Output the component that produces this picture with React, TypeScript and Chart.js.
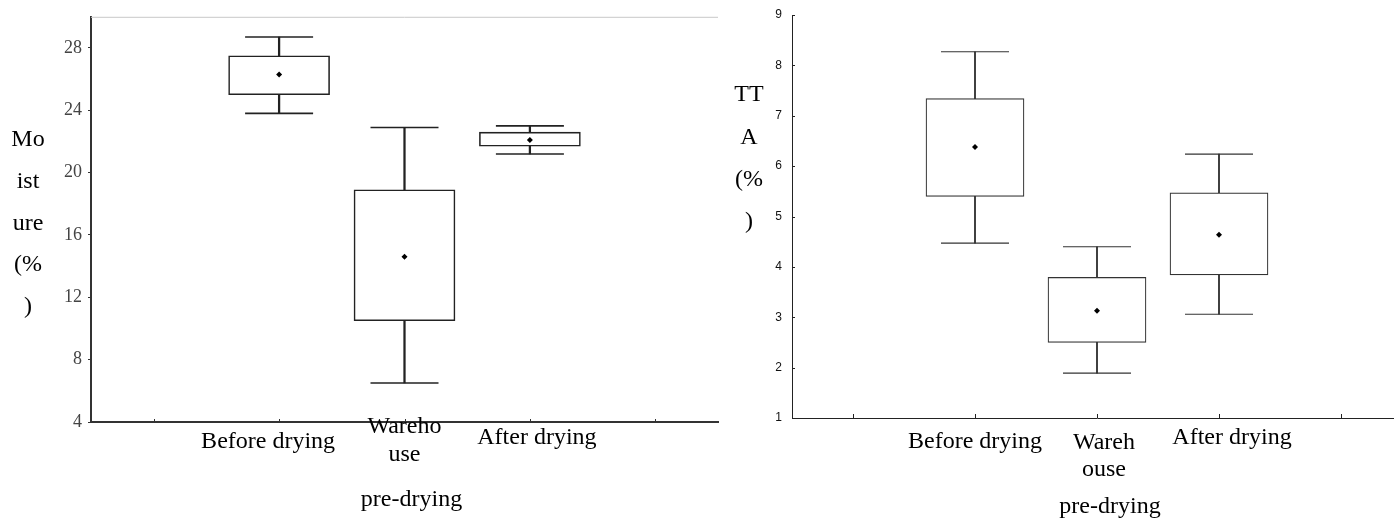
import React, { useEffect, useRef } from "react";
import { Chart, registerables } from "chart.js";

Chart.register(...registerables);

// ---------- data ----------
const categories = ["", "Before drying", "Warehouse pre-drying", "After drying", ""];

// Moisture (%)
const moistureLow = [null, 23.8, 6.5, 21.2, null];
const moistureQ1 = [null, 25.0, 10.5, 21.7, null];
const moistureMean = [null, 26.3, 14.6, 22.1, null];
const moistureQ3 = [null, 27.5, 18.9, 22.6, null];
const moistureHigh = [null, 28.7, 22.9, 23.0, null];
const moistureTicks = [4, 8, 12, 16, 20, 24, 28];
const moistureLabelLines = [[], ["Before drying"], ["Wareho", "use", "pre-drying"], ["After drying"], []];
const moistureTitle = ["Mo", "ist", "ure", "(%", ")"];

// TTA (%)
const ttaLow = [null, 4.47, 1.89, 3.06, null];
const ttaQ1 = [null, 5.4, 2.5, 3.84, null];
const ttaMean = [null, 6.38, 3.13, 4.64, null];
const ttaQ3 = [null, 7.34, 3.79, 5.47, null];
const ttaHigh = [null, 8.27, 4.4, 6.24, null];
const ttaTicks = [1, 2, 3, 4, 5, 6, 7, 8, 9];
const ttaLabelLines = [[], ["Before drying"], ["Wareh", "ouse", "pre-drying"], ["After drying"], []];
const ttaTitle = ["TT", "A", "(%", ")"];

const SERIF = "'Liberation Serif', 'Times New Roman', serif";
const SANS = "'Liberation Sans', Arial, sans-serif";

type Spec = {
  width: number;
  height: number;
  padTop: number;
  padRight: number;
  yAxisWidth: number;
  xAxisHeight: number;
  yMin: number;
  yMax: number;
  ticks: number[];
  low: (number | null)[];
  q1: (number | null)[];
  mean: (number | null)[];
  q3: (number | null)[];
  high: (number | null)[];
  labelLines: string[][];
  labelOffsets: number[][][];
  title: string[];
  titleX: number;
  titleY0: number;
  titleStep: number;
  tickFont: string;
  tickSize: number;
  tickColor: string;
  tickPadding: number;
  yTicksOutside: boolean;
  axisColor: string;
  axisWidth: number;
  boxColor: string;
  boxLineWidth: number;
  boxWidth: number;
  capRadius: number;
  xTickLen: number;
  yTickLen: number;
  topBorder: boolean;
};

function overlayPlugin(spec: Spec) {
  return {
    id: "overlay",
    afterDraw(chart: any) {
      const { ctx, chartArea, scales } = chart;
      const xs = scales.x;
      const ys = scales.y;
      ctx.save();
      if (spec.topBorder) {
        ctx.strokeStyle = "#c8c8c8";
        ctx.lineWidth = 1;
        ctx.beginPath();
        ctx.moveTo(chartArea.left, chartArea.top + 0.5);
        ctx.lineTo(chartArea.right, chartArea.top + 0.5);
        ctx.stroke();
      }
      // inner x ticks
      ctx.strokeStyle = spec.axisColor;
      ctx.lineWidth = 1;
      categories.forEach((_, i) => {
        const x = Math.round(xs.getPixelForValue(i)) + 0.5;
        ctx.beginPath();
        ctx.moveTo(x, chartArea.bottom);
        ctx.lineTo(x, chartArea.bottom - spec.xTickLen);
        ctx.stroke();
      });
      // inner y ticks
      if (!spec.yTicksOutside) {
        spec.ticks.forEach((v) => {
          const y = Math.round(ys.getPixelForValue(v)) + 0.5;
          ctx.beginPath();
          ctx.moveTo(chartArea.left, y);
          ctx.lineTo(chartArea.left + spec.yTickLen, y);
          ctx.stroke();
        });
      }
      // category labels
      ctx.fillStyle = "#000";
      ctx.font = `24px ${SERIF}`;
      ctx.textAlign = "center";
      ctx.textBaseline = "middle";
      spec.labelLines.forEach((lines, i) => {
        lines.forEach((line, j) => {
          const off = spec.labelOffsets[i][j];
          ctx.fillText(line, xs.getPixelForValue(i) + off[0], chartArea.bottom + off[1]);
        });
      });
      // y title, stacked
      spec.title.forEach((t, j) => {
        ctx.fillText(t, spec.titleX, spec.titleY0 + j * spec.titleStep);
      });
      ctx.restore();
    },
  };
}

function buildConfig(spec: Spec): any {
  const boxData = spec.q1.map((v, i) => (v == null ? null : [v, spec.q3[i] as number]));
  const stemData = spec.low.map((v, i) => (v == null ? null : [v, spec.high[i] as number]));
  return {
    type: "bar",
    data: {
      labels: categories,
      datasets: [
        {
          type: "line",
          data: spec.mean,
          showLine: false,
          pointStyle: "rectRot",
          pointRadius: 3,
          pointBackgroundColor: "#000",
          pointBorderWidth: 0,
          order: 0,
        },
        {
          type: "line",
          data: spec.high,
          showLine: false,
          pointStyle: "line",
          pointRadius: spec.capRadius,
          pointBorderColor: spec.boxColor,
          pointBorderWidth: spec.boxLineWidth,
          order: 1,
        },
        {
          type: "line",
          data: spec.low,
          showLine: false,
          pointStyle: "line",
          pointRadius: spec.capRadius,
          pointBorderColor: spec.boxColor,
          pointBorderWidth: spec.boxLineWidth,
          order: 1,
        },
        {
          type: "bar",
          data: boxData,
          grouped: false,
          barThickness: spec.boxWidth,
          backgroundColor: "#fff",
          borderColor: spec.boxColor,
          borderWidth: spec.boxLineWidth,
          borderSkipped: false,
          order: 2,
        },
        {
          type: "bar",
          data: stemData,
          grouped: false,
          barThickness: spec.boxLineWidth,
          backgroundColor: spec.boxColor,
          borderWidth: 0,
          order: 3,
        },
      ],
    },
    options: {
      responsive: false,
      animation: false,
      events: [],
      layout: {
        autoPadding: false,
        padding: { top: spec.padTop, right: spec.padRight, left: 0, bottom: 0 },
      },
      plugins: { legend: { display: false }, tooltip: { enabled: false } },
      scales: {
        x: {
          type: "category",
          offset: true,
          grid: { display: false },
          border: { display: true, color: spec.axisColor, width: spec.axisWidth },
          ticks: { display: false },
          afterFit: (s: any) => {
            s.height = spec.xAxisHeight;
          },
        },
        y: {
          type: "linear",
          min: spec.yMin,
          max: spec.yMax,
          grid: {
            display: spec.yTicksOutside,
            drawOnChartArea: false,
            drawTicks: true,
            tickLength: spec.yTickLen,
            color: spec.axisColor,
          },
          border: { display: true, color: spec.axisColor, width: spec.axisWidth },
          ticks: {
            padding: spec.tickPadding,
            color: spec.tickColor,
            font: { family: spec.tickFont, size: spec.tickSize },
          },
          afterBuildTicks: (axis: any) => {
            axis.ticks = spec.ticks.map((v) => ({ value: v }));
          },
          afterFit: (s: any) => {
            s.width = spec.yAxisWidth;
          },
        },
      },
    },
    plugins: [overlayPlugin(spec)],
  };
}

const leftSpec: Spec = {
  width: 720,
  height: 519,
  padTop: 15,
  padRight: 2,
  yAxisWidth: 91,
  xAxisHeight: 97,
  yMin: 4,
  yMax: 30,
  ticks: moistureTicks,
  low: moistureLow,
  q1: moistureQ1,
  mean: moistureMean,
  q3: moistureQ3,
  high: moistureHigh,
  labelLines: moistureLabelLines,
  labelOffsets: [[], [[-11, 20]], [[0, 5], [0, 33], [7, 78]], [[7, 16]], []],
  title: moistureTitle,
  titleX: 28,
  titleY0: 140,
  titleStep: 41.7,
  tickFont: SERIF,
  tickSize: 18,
  tickColor: "#444",
  tickPadding: 6,
  yTicksOutside: true,
  axisColor: "#333",
  axisWidth: 2,
  boxColor: "#222",
  boxLineWidth: 1.6,
  boxWidth: 101,
  capRadius: 34,
  xTickLen: 3,
  yTickLen: 3,
  topBorder: true,
};

const rightSpec: Spec = {
  width: 684,
  height: 519,
  padTop: 15,
  padRight: 2,
  yAxisWidth: 72,
  xAxisHeight: 101,
  yMin: 1,
  yMax: 9,
  ticks: ttaTicks,
  low: ttaLow,
  q1: ttaQ1,
  mean: ttaMean,
  q3: ttaQ3,
  high: ttaHigh,
  labelLines: ttaLabelLines,
  labelOffsets: [[], [[0, 24]], [[7, 25], [7, 52], [13, 89]], [[13, 20]], []],
  title: ttaTitle,
  titleX: 29,
  titleY0: 95,
  titleStep: 42.3,
  tickFont: SANS,
  tickSize: 12,
  tickColor: "#111",
  tickPadding: 7,
  yTicksOutside: false,
  axisColor: "#222",
  axisWidth: 1,
  boxColor: "#333",
  boxLineWidth: 1.2,
  boxWidth: 98,
  capRadius: 34,
  xTickLen: 4,
  yTickLen: 3,
  topBorder: false,
};

function BoxChart({ spec }: { spec: Spec }) {
  const ref = useRef<HTMLCanvasElement | null>(null);
  useEffect(() => {
    if (!ref.current) return;
    const chart = new Chart(ref.current, buildConfig(spec));
    return () => chart.destroy();
  }, [spec]);
  return <canvas ref={ref} width={spec.width} height={spec.height} style={{ display: "block" }} />;
}

export default function App() {
  return (
    <div
      style={{
        position: "fixed",
        left: 0,
        top: 0,
        width: 1394,
        height: 519,
        overflow: "hidden",
        background: "#fff",
      }}
    >
      <div style={{ position: "absolute", left: 0, top: 0 }}>
        <BoxChart spec={leftSpec} />
      </div>
      <div style={{ position: "absolute", left: 720, top: 0 }}>
        <BoxChart spec={rightSpec} />
      </div>
    </div>
  );
}
